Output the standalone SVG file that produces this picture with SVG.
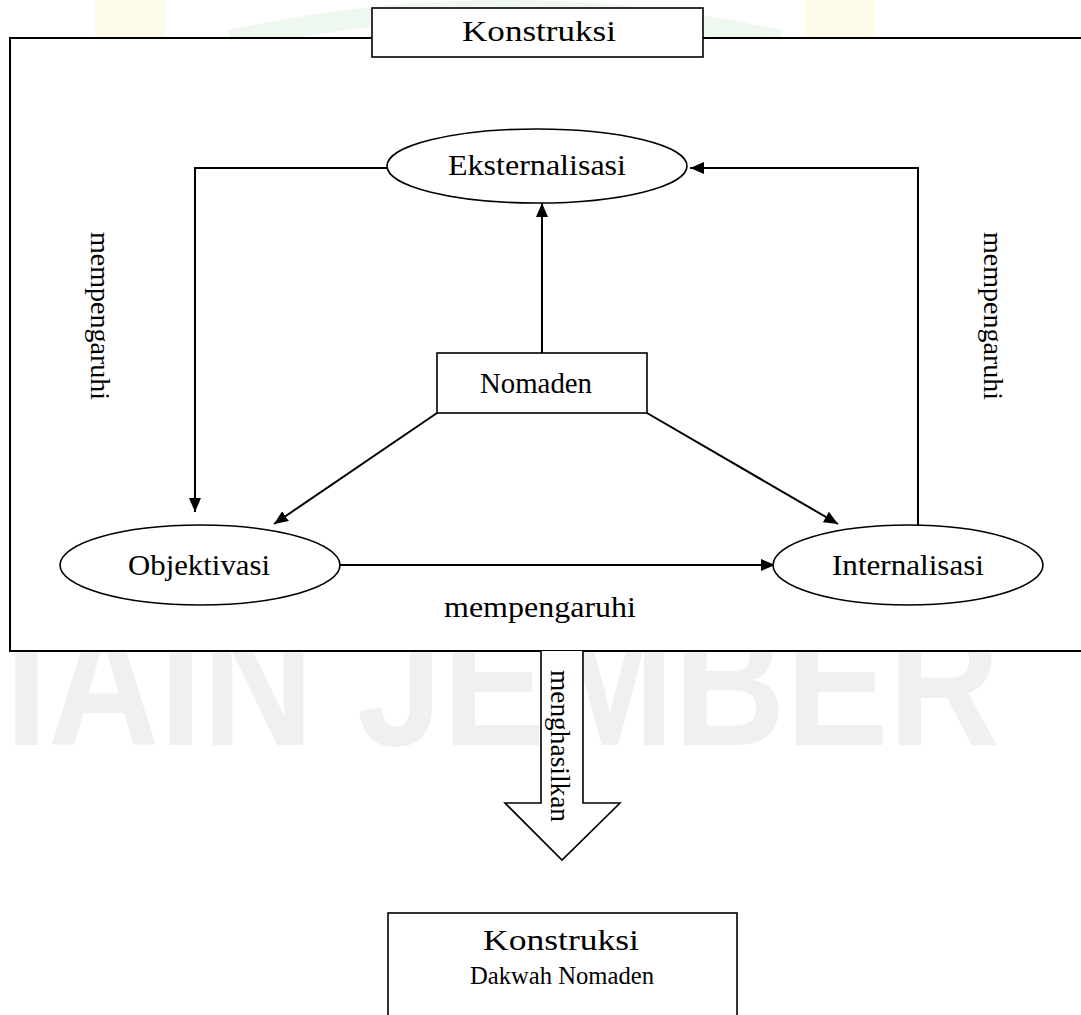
<svg xmlns="http://www.w3.org/2000/svg" width="1081" height="1015" viewBox="0 0 1081 1015">
<style>
text{font-family:"Liberation Serif","Times New Roman",serif;fill:#000;font-size:29px}
.c{text-anchor:middle}
.n{fill:#fff;stroke:#000;stroke-width:1.6}
.l{fill:none;stroke:#000;stroke-width:2}
.wm{font-family:"Liberation Sans",Arial,sans-serif;font-weight:bold;fill:#f0f0f0;font-size:180px}
</style>
<defs>
<marker id="ah" viewBox="0 0 14 12" refX="14" refY="6" markerWidth="14" markerHeight="12" markerUnits="userSpaceOnUse" orient="auto">
<path d="M0,0L14,6L0,12Z" fill="#000"/>
</marker>
</defs>
<rect width="1081" height="1015" fill="#fff"/>
<g id="watermark">
<rect x="95" y="0" width="70" height="40" fill="#fffbea"/>
<rect x="805" y="0" width="70" height="40" fill="#fffbea"/>
<path d="M230,40 Q505,-20 780,40" fill="none" stroke="#eef8ee" stroke-width="20"/>
<text class="wm" x="5" y="745" textLength="995" lengthAdjust="spacingAndGlyphs">IAIN JEMBER</text>
</g>
<g id="frame">
<rect x="10" y="38" width="1090" height="613" fill="#fff" stroke="#000" stroke-width="2"/>
</g>
<g id="konstruksi-top">
<rect class="n" x="372" y="8" width="331" height="49"/>
<text class="c" x="539" y="41" textLength="154" lengthAdjust="spacingAndGlyphs">Konstruksi</text>
</g>
<g id="connectors">
<polyline class="l" points="388,168 195,168 195,512" marker-end="url(#ah)"/>
<polyline class="l" points="918,525 918,168 690,168" marker-end="url(#ah)"/>
<line class="l" x1="542" y1="353" x2="542" y2="203" marker-end="url(#ah)"/>
<line class="l" x1="437" y1="413" x2="274" y2="524" marker-end="url(#ah)"/>
<line class="l" x1="647" y1="413" x2="838" y2="524" marker-end="url(#ah)"/>
<line class="l" x1="340" y1="565" x2="775" y2="565" marker-end="url(#ah)"/>
</g>
<g id="eksternalisasi">
<ellipse class="n" cx="537" cy="166" rx="150" ry="37"/>
<text class="c" x="537" y="175" textLength="178" lengthAdjust="spacingAndGlyphs">Eksternalisasi</text>
</g>
<g id="nomaden">
<rect class="n" x="437" y="353" width="210" height="60"/>
<text class="c" x="536" y="393" textLength="112" lengthAdjust="spacingAndGlyphs">Nomaden</text>
</g>
<g id="objektivasi">
<ellipse class="n" cx="200" cy="565" rx="140" ry="40"/>
<text class="c" x="199" y="575" textLength="142" lengthAdjust="spacingAndGlyphs">Objektivasi</text>
</g>
<g id="internalisasi">
<ellipse class="n" cx="908" cy="565" rx="135" ry="40"/>
<text class="c" x="908" y="575" textLength="152" lengthAdjust="spacingAndGlyphs">Internalisasi</text>
</g>
<g id="labels">
<text class="c" x="540" y="617" textLength="192" lengthAdjust="spacingAndGlyphs">mempengaruhi</text>
<text class="c" transform="translate(91,316) rotate(90)" style="font-size:28px" textLength="168" lengthAdjust="spacingAndGlyphs">mempengaruhi</text>
<text class="c" transform="translate(984,316) rotate(90)" style="font-size:28px" textLength="168" lengthAdjust="spacingAndGlyphs">mempengaruhi</text>
</g>
<g id="block-arrow">
<path d="M541,651 L541,803 L505,803 L562,860 L620,803 L583,803 L583,651" fill="#fff" stroke="#000" stroke-width="1.6"/>
<text class="c" transform="translate(551,746) rotate(90)" style="font-size:27px" textLength="152" lengthAdjust="spacingAndGlyphs">menghasilkan</text>
</g>
<g id="konstruksi-dakwah">
<rect class="n" x="388" y="913" width="349" height="120"/>
<text class="c" x="561" y="950" textLength="156" lengthAdjust="spacingAndGlyphs">Konstruksi</text>
<text class="c" x="562" y="984" style="font-size:25px" textLength="184" lengthAdjust="spacingAndGlyphs">Dakwah Nomaden</text>
</g>
</svg>
